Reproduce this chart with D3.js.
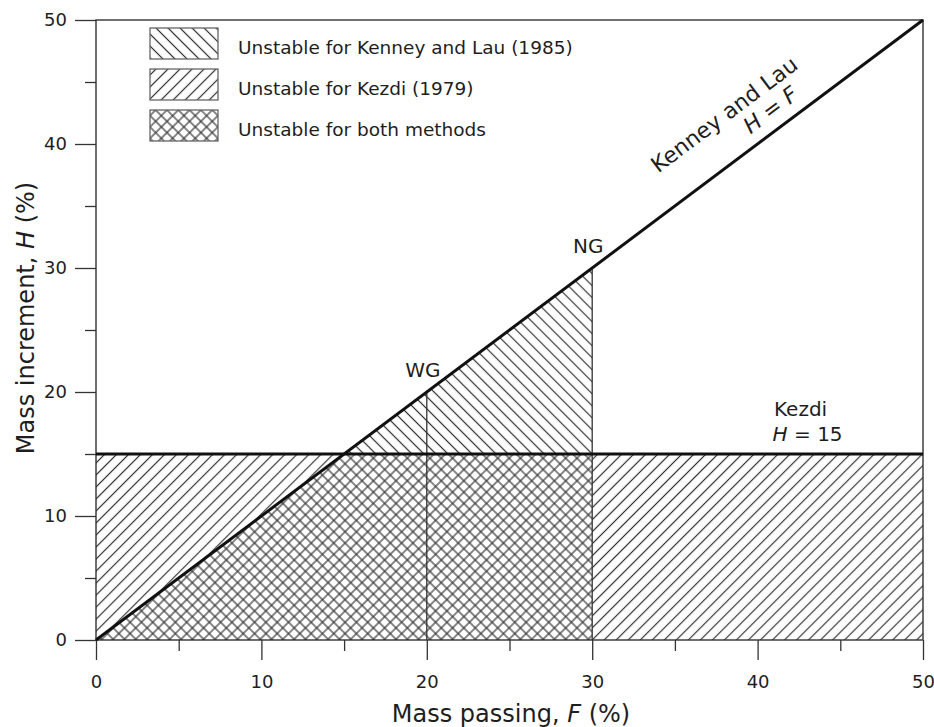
<!doctype html>
<html lang="en">
  <head>
    <meta charset="utf-8">
    <script src="https://cdn.jsdelivr.net/npm/d3@7/dist/d3.min.js"></script>
    <style>
body { margin: 0; background: #fff; }
svg text { font-family: "DejaVu Sans", "Liberation Sans", sans-serif; fill: #1e1e1e; }
.axis path.domain { display: none; }
.axis line { stroke: #333; stroke-width: 1.3; }
.axis text { font-size: 18px; }
.hatch line { stroke: #333; stroke-width: 1.2; }
    </style>
  </head>
  <body>
    <svg id="chart" width="934" height="727"></svg>
    <script>
//=============================== DATA ===================================
var fTicks = [0, 10, 20, 30, 40, 50]
var fMinor = [5, 15, 25, 35, 45]
var hTicks = [0, 10, 20, 30, 40, 50]
var hMinor = [5, 15, 25, 35, 45]

var kenneyLine = [[0, 0], [50, 50]]		// H = F
var kezdiH = 15							// H = 15
var gradeF = [20, 30]
var gradeLabels = ['WG', 'NG']

// zones, in (F, H)
var kezdiOnly = [
	[[0, 0], [0, 15], [15, 15]],
	[[30, 0], [30, 15], [50, 15], [50, 0]]
]
var bothZone = [[0, 0], [15, 15], [30, 15], [30, 0]]
var kenneyOnly = [[15, 15], [30, 30], [30, 15]]

var legendLabels = ['Unstable for Kenney and Lau (1985)', 'Unstable for Kezdi (1979)', 'Unstable for both methods']
var legendFills = ['hatchBack', 'hatchFwd', 'hatchCross']

//=============================== DRAW ===================================
var svg = d3.select('#chart')
var x = d3.scaleLinear().domain([0, 50]).range([96, 923])
var y = d3.scaleLinear().domain([0, 50]).range([640, 20])

var defs = svg.append('defs')
function hatch(id, step, angle, cross) {
	var p = defs.append('pattern').attr('id', id).classed('hatch', true)
		.attr('patternUnits', 'userSpaceOnUse')
		.attr('width', step).attr('height', step)
		.attr('patternTransform', 'rotate(' + angle + ')')
	p.append('line').attr('x1', step / 2).attr('y1', 0).attr('x2', step / 2).attr('y2', step)
	if (cross) p.append('line').attr('x1', 0).attr('y1', step / 2).attr('x2', step).attr('y2', step / 2)
}
hatch('hatchFwd', 8.5, 45, false)		// "/"
hatch('hatchBack', 8.5, -45, false)		// "\"
hatch('hatchCross', 8, 45, true)

var area = d3.line().x(function(d) { return x(d[0]) }).y(function(d) { return y(d[1]) })

kezdiOnly.forEach(function(z) {
	svg.append('path').attr('d', area(z) + 'Z').attr('fill', 'url(#hatchFwd)')
})
svg.append('path').attr('d', area(bothZone) + 'Z').attr('fill', 'url(#hatchCross)')
svg.append('path').attr('d', area(kenneyOnly) + 'Z').attr('fill', 'url(#hatchBack)')

// grade verticals
gradeF.forEach(function(f) {
	svg.append('line')
		.attr('x1', x(f)).attr('x2', x(f)).attr('y1', y(0)).attr('y2', y(f))
		.attr('stroke', '#333').attr('stroke-width', 1.3)
})

// axes
var gx = svg.append('g').attr('class', 'axis').attr('transform', 'translate(0,' + y(0) + ')')
gx.call(d3.axisBottom(x).tickValues(fTicks).tickSize(20).tickPadding(15).tickFormat(d3.format('d')))
gx.append('g').call(d3.axisBottom(x).tickValues(fMinor).tickSize(11).tickFormat(''))
var gy = svg.append('g').attr('class', 'axis').attr('transform', 'translate(' + x(0) + ',0)')
gy.call(d3.axisLeft(y).tickValues(hTicks).tickSize(21).tickPadding(8).tickFormat(d3.format('d')))
gy.append('g').call(d3.axisLeft(y).tickValues(hMinor).tickSize(11).tickFormat(''))
svg.selectAll('.axis path.domain').remove()

// frame
svg.append('rect')
	.attr('x', x(0)).attr('y', y(50)).attr('width', x(50) - x(0)).attr('height', y(0) - y(50))
	.attr('fill', 'none').attr('stroke', '#333').attr('stroke-width', 1.4)

// criteria lines
svg.append('line')
	.attr('x1', x(0)).attr('x2', x(50)).attr('y1', y(kezdiH)).attr('y2', y(kezdiH))
	.attr('stroke', '#111').attr('stroke-width', 3)
svg.append('path').attr('d', area(kenneyLine))
	.attr('stroke', '#111').attr('stroke-width', 3).attr('fill', 'none')

// axis titles
svg.append('text').attr('x', 511).attr('y', 722).attr('text-anchor', 'middle')
	.style('font-size', '24px')
	.html('Mass passing, <tspan font-style="italic">F</tspan> (%)')
svg.append('text').attr('transform', 'translate(34,318) rotate(-90)').attr('text-anchor', 'middle')
	.style('font-size', '24px')
	.html('Mass increment, <tspan font-style="italic">H</tspan> (%)')

// grade labels
gradeF.forEach(function(f, i) {
	svg.append('text').attr('x', x(f) - 4).attr('y', y(f) - 15)
		.attr('text-anchor', 'middle').style('font-size', '20px').text(gradeLabels[i])
})

// Kenney and Lau label, along the H = F line
var ang = Math.atan2(y(0) - y(50), x(50) - x(0)) * 180 / Math.PI
var kl = svg.append('g')
	.attr('transform', 'translate(' + x(35.3) + ',' + y(35.3) + ') rotate(' + (-ang) + ')')
kl.append('text').attr('x', 0).attr('y', -36)
	.style('font-size', '22px').text('Kenney and Lau')
kl.append('text').attr('x', 128).attr('y', -12).attr('text-anchor', 'middle')
	.style('font-size', '22px')
	.html('<tspan font-style="italic">H</tspan> = <tspan font-style="italic">F</tspan>')

// Kezdi label
svg.append('text').attr('x', x(42.6)).attr('y', y(kezdiH) - 38).attr('text-anchor', 'middle')
	.style('font-size', '20px').text('Kezdi')
svg.append('text').attr('x', x(42.6) + 7).attr('y', y(kezdiH) - 13).attr('text-anchor', 'middle')
	.style('font-size', '20px')
	.html('<tspan font-style="italic">H</tspan> = 15')

// legend
var lg = svg.append('g').attr('transform', 'translate(150,28)')
legendLabels.forEach(function(lab, i) {
	var row = lg.append('g').attr('transform', 'translate(0,' + (i * 41) + ')')
	row.append('rect').attr('width', 68).attr('height', 31)
		.attr('fill', 'url(#' + legendFills[i] + ')')
		.attr('stroke', '#666').attr('stroke-width', 1.3)
	row.append('text').attr('x', 88).attr('y', 26).style('font-size', '18.5px').text(lab)
})
    </script>
  </body>
</html>
